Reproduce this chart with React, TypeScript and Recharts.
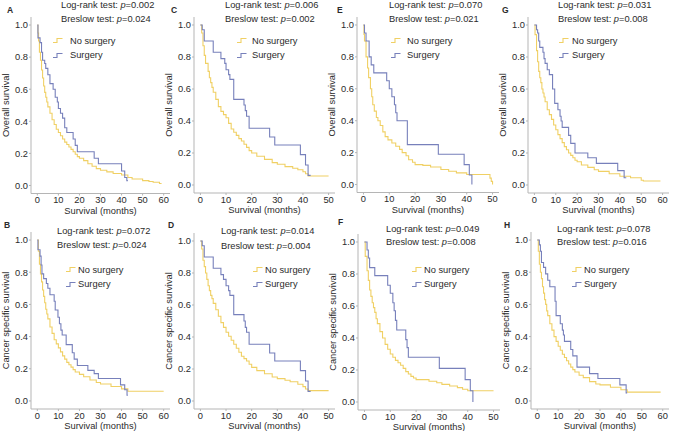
/* ── Kaplan–Meier survival panels A–H (surgery vs no surgery) ───────── */

import React from 'react';
import { LineChart, Line, XAxis, YAxis } from 'recharts';

const YELLOW = '#f0d064';
const BLUE = '#7780bb';
const AXIS = '#b5b5b5';
const INK = '#2b2b2b';
const FONT = '"Liberation Sans", Arial, Helvetica, sans-serif';

type Pt = [number, number];

/* survival curves: [months, survival probability] */
const A_NO: Pt[] = [[0,1],[0.3,0.95],[0.6,0.9],[1,0.83],[1.5,0.78],[2,0.72],[2.5,0.67],[3,0.62],[3.5,0.58],[4,0.55],[4.5,0.52],[5,0.49],[6,0.45],[7,0.41],[8,0.38],[9,0.35],[10,0.33],[11,0.31],[12,0.29],[13,0.27],[14,0.255],[15,0.24],[16,0.225],[17,0.21],[18,0.195],[19,0.18],[20,0.17],[22,0.155],[24,0.135],[26,0.12],[28,0.105],[30,0.095],[33,0.085],[36,0.075],[40,0.065],[43,0.05],[45,0.04],[50,0.03],[53,0.025],[55,0.02],[58,0.012],[59,0.012]];
const A_SURG: Pt[] = [[0,1],[0.3,0.92],[1.3,0.89],[2,0.83],[2.5,0.78],[3.5,0.76],[4,0.73],[5,0.69],[6,0.635],[7.5,0.6],[8.5,0.55],[9.5,0.52],[10,0.48],[11,0.45],[12,0.42],[13,0.36],[14,0.33],[17,0.29],[18,0.25],[19,0.21],[27,0.17],[29,0.135],[40,0.09],[41.5,0.05],[42.5,0.03],[43,0.03]];

const C_NO: Pt[] = [[0,1],[0.5,0.95],[1,0.87],[1.5,0.81],[2,0.76],[3,0.71],[3.5,0.67],[4,0.64],[4.5,0.61],[5,0.58],[6,0.535],[7,0.49],[8,0.46],[9,0.44],[10,0.42],[11,0.385],[12,0.35],[13,0.33],[14,0.31],[15,0.29],[16,0.275],[17,0.255],[18,0.235],[19,0.215],[20,0.2],[22,0.18],[25,0.16],[28,0.14],[30,0.13],[33,0.115],[36,0.105],[38,0.095],[40,0.083],[41,0.07],[42,0.056],[50,0.056]];
const C_SURG: Pt[] = [[0,1],[0.7,0.97],[1.5,0.9],[5,0.83],[8,0.79],[9.5,0.76],[10,0.72],[11,0.69],[11.5,0.66],[13,0.535],[17,0.5],[17.5,0.465],[18,0.43],[19,0.355],[27,0.3],[29,0.25],[39,0.19],[41,0.125],[42,0.06],[43,0.06]];

const E_NO: Pt[] = [[0,1],[0.2,0.94],[0.4,0.9],[1,0.8],[1.6,0.73],[2,0.67],[2.7,0.6],[3.2,0.55],[3.6,0.5],[4.2,0.46],[5,0.42],[5.6,0.4],[6.5,0.37],[7.5,0.33],[8.4,0.3],[9.5,0.28],[11,0.26],[12.5,0.24],[14,0.22],[15,0.2],[16.5,0.18],[17.5,0.155],[19,0.14],[20,0.125],[23,0.12],[26,0.11],[30,0.094],[33,0.083],[36,0.073],[40,0.063],[49,0.04],[49.5,0.02],[50,0.0]];
const E_SURG: Pt[] = [[0,1],[0.4,0.95],[1,0.9],[2.2,0.8],[3,0.75],[4,0.7],[9,0.65],[10,0.6],[11,0.55],[12,0.5],[12.5,0.45],[13,0.4],[17,0.25],[29,0.19],[39,0.125],[41,0.06],[42,0.0]];

const G_NO: Pt[] = [[0,1],[0.3,0.94],[1,0.84],[1.5,0.77],[2,0.71],[2.5,0.67],[3,0.64],[3.5,0.6],[4,0.575],[4.5,0.55],[5,0.52],[6,0.47],[7,0.44],[8,0.41],[9,0.375],[10,0.345],[11,0.315],[12,0.29],[13,0.265],[14,0.24],[15,0.22],[16,0.2],[17,0.185],[18,0.17],[19,0.155],[20,0.145],[22,0.125],[25,0.11],[28,0.095],[30,0.085],[35,0.07],[40,0.055],[45,0.045],[50,0.03],[51,0.025],[59,0.025]];
const G_SURG: Pt[] = [[0,1],[1,0.97],[1.5,0.95],[2,0.9],[2.5,0.86],[4,0.83],[4.5,0.79],[5,0.76],[6,0.72],[7,0.69],[8.5,0.6],[9.5,0.51],[11,0.47],[12,0.43],[12.5,0.4],[13,0.36],[16,0.31],[17,0.26],[19,0.2],[25,0.17],[29,0.135],[39,0.09],[42,0.045],[43,0.045]];

const B_NO: Pt[] = [[0,1],[0.5,0.93],[1,0.85],[1.5,0.79],[2,0.74],[2.5,0.69],[3,0.65],[3.5,0.61],[4,0.57],[4.5,0.54],[5,0.51],[6,0.46],[7,0.42],[8,0.38],[9,0.355],[10,0.33],[11,0.305],[12,0.28],[13,0.26],[14,0.24],[15,0.225],[16,0.21],[17,0.195],[18,0.18],[20,0.165],[22,0.15],[25,0.13],[28,0.115],[30,0.105],[35,0.09],[40,0.075],[43,0.06],[60,0.06]];
const B_SURG: Pt[] = [[0,1],[0.3,0.94],[1.3,0.9],[1.8,0.845],[2.2,0.79],[3,0.76],[4.3,0.73],[5,0.7],[6,0.66],[8,0.62],[8.5,0.565],[9.8,0.52],[10.5,0.48],[11.2,0.44],[11.8,0.41],[13.7,0.35],[16.6,0.3],[17.5,0.26],[19,0.22],[24,0.19],[27,0.17],[29,0.14],[39.5,0.1],[41.5,0.07],[42.6,0.035],[43,0.035]];

const D_NO: Pt[] = [[0,1],[0.5,0.95],[1,0.88],[1.5,0.84],[2,0.8],[2.5,0.76],[3,0.72],[3.5,0.69],[4,0.66],[4.5,0.64],[5,0.61],[6,0.57],[7,0.53],[8,0.49],[9,0.46],[10,0.43],[11,0.405],[12,0.38],[13,0.355],[14,0.33],[15,0.305],[16,0.28],[17,0.265],[18,0.25],[19,0.23],[20,0.21],[22,0.19],[25,0.17],[28,0.15],[30,0.14],[33,0.13],[35,0.12],[38,0.105],[40,0.09],[41,0.075],[42,0.065],[50,0.065]];
const D_SURG: Pt[] = [[0,1],[0.7,0.97],[1.5,0.9],[5,0.83],[8,0.79],[9,0.76],[10,0.72],[11,0.69],[11.5,0.66],[13,0.54],[17,0.5],[17.5,0.46],[18,0.43],[19,0.355],[27,0.3],[29,0.25],[39,0.19],[41,0.125],[42,0.06],[43,0.06]];

const F_NO: Pt[] = [[0,1],[0.3,0.91],[1,0.82],[1.5,0.76],[2,0.7],[2.5,0.66],[3,0.62],[3.5,0.59],[4,0.56],[4.5,0.52],[5,0.49],[6,0.44],[7,0.4],[8,0.36],[9,0.33],[10,0.3],[11,0.28],[12,0.26],[13,0.245],[14,0.23],[15,0.21],[16,0.19],[17,0.175],[18,0.16],[19,0.15],[20,0.14],[25,0.13],[28,0.12],[30,0.11],[33,0.1],[36,0.09],[38,0.08],[40,0.07],[50,0.07]];
const F_SURG: Pt[] = [[0,1],[1,0.95],[1.5,0.9],[2,0.84],[4,0.79],[9,0.73],[10,0.68],[11,0.62],[11.5,0.57],[12,0.51],[12.5,0.45],[16,0.39],[16.5,0.34],[17,0.28],[29,0.21],[39,0.14],[41,0.07],[42,0.0]];

const H_NO: Pt[] = [[0,1],[0.5,0.93],[1,0.85],[1.5,0.8],[2,0.76],[2.5,0.71],[3,0.67],[3.5,0.63],[4,0.6],[4.5,0.56],[5,0.53],[6,0.48],[7,0.44],[8,0.4],[9,0.37],[10,0.34],[11,0.315],[12,0.29],[13,0.27],[14,0.25],[15,0.23],[16,0.21],[17,0.195],[18,0.18],[20,0.16],[22,0.145],[25,0.12],[28,0.105],[30,0.1],[35,0.085],[40,0.07],[43,0.055],[59,0.055]];
const H_SURG: Pt[] = [[0,1],[1,0.97],[1.5,0.93],[2,0.86],[3,0.83],[4,0.79],[5,0.75],[6,0.71],[8.5,0.62],[9,0.53],[11,0.48],[12,0.44],[12.5,0.41],[13,0.37],[16,0.32],[17,0.28],[19,0.21],[25,0.17],[29,0.14],[39.5,0.1],[42.5,0.05],[43,0.05]];

/* test statistics per panel */
const LOG_RANK: Record<string, string> = { A: '0.002', C: '0.006', E: '0.070', G: '0.031', B: '0.072', D: '0.014', F: '0.049', H: '0.078' };
const BRESLOW: Record<string, string> = { A: '0.024', C: '0.002', E: '0.021', G: '0.008', B: '0.024', D: '0.004', F: '0.008', H: '0.016' };

const Y_TICKS = [0, 0.2, 0.4, 0.6, 0.8, 1.0];
const X_TICKS_60 = [0, 10, 20, 30, 40, 50, 60];
const X_TICKS_50 = [0, 10, 20, 30, 40, 50];

/* layout: plot box [left, right, top, bottom] and text anchors, in page px */
const LAYOUT = [
  { id: 'A', no: A_NO, surg: A_SURG, xMax: 60, yTitle: 'Overall survival', plot: [30.5, 169.5, 16.5, 193], letter: [7, 10], stat: [61, 5, 18.5], leg: [53, 70, 40.5, 55] },
  { id: 'C', no: C_NO, surg: C_SURG, xMax: 50, yTitle: 'Overall survival', plot: [193.5, 334.5, 16.5, 192.5], letter: [171, 10], stat: [225, 5, 18.5], leg: [237, 252, 40.5, 55] },
  { id: 'E', no: E_NO, surg: E_SURG, xMax: 50, yTitle: 'Overall survival', plot: [357, 499, 16.5, 192], letter: [337, 10], stat: [389, 5, 18.5], leg: [391, 407, 40.5, 55] },
  { id: 'G', no: G_NO, surg: G_SURG, xMax: 60, yTitle: 'Overall survival', plot: [527.5, 668.5, 16.5, 192.5], letter: [502, 10], stat: [558, 5, 18.5], leg: [559, 572, 40.5, 55] },
  { id: 'B', no: B_NO, surg: B_SURG, xMax: 60, yTitle: 'Cancer specific survival', plot: [30.5, 169.5, 231.5, 408.5], letter: [4, 225], stat: [57, 231, 245], leg: [66, 78, 269.5, 284] },
  { id: 'D', no: D_NO, surg: D_SURG, xMax: 50, yTitle: 'Cancer specific survival', plot: [193.5, 334.5, 232.5, 408.5], letter: [168, 225], stat: [221, 231, 245.5], leg: [253, 265, 269.5, 284] },
  { id: 'F', no: F_NO, surg: F_SURG, xMax: 50, yTitle: 'Cancer specific survival', plot: [357.5, 499.5, 234, 410], letter: [338, 222], stat: [386, 228.5, 242], leg: [412, 424, 269.5, 284] },
  { id: 'H', no: H_NO, surg: H_SURG, xMax: 60, yTitle: 'Cancer specific survival', plot: [530.5, 668.5, 232, 409], letter: [504, 225], stat: [557, 228.5, 242], leg: [572, 584, 269.5, 284] },
];

const YW = 30;   // y-axis band width
const XH = 24;   // x-axis band height
const MT = 2;
const MR = 2;
const FS = 9.3;

const toRows = (pts: Pt[]) => pts.map(([t, s]) => ({ t, s }));

function YTitle({ viewBox, text }: any) {
  const cx = viewBox.x + 5;
  const cy = viewBox.y + viewBox.height / 2;
  return (
    <text x={cx} y={cy} transform={`rotate(-90 ${cx} ${cy})`} textAnchor="middle"
      dominantBaseline="central" fill={INK} fontSize={FS} fontFamily={FONT}>
      {text}
    </text>
  );
}

function XTitle({ viewBox }: any) {
  const cx = viewBox.x + viewBox.width / 2;
  const cy = viewBox.y + 17;
  return (
    <text x={cx} y={cy} textAnchor="middle" dominantBaseline="central"
      fill={INK} fontSize={FS} fontFamily={FONT}>
      Survival (months)
    </text>
  );
}

function StepGlyph({ color }: { color: string }) {
  return (
    <svg width={10} height={7} style={{ display: 'block' }}>
      <path d="M0,5.5 H4 V1.5 H9.5" fill="none" stroke={color} strokeWidth={1.1} />
    </svg>
  );
}

function Txt({ x, cy, children, bold }: any) {
  return (
    <div style={{ position: 'absolute', left: x, top: cy - 6, height: 12, lineHeight: '12px', fontSize: bold ? 8.5 : FS, fontWeight: bold ? 700 : 400, color: INK, whiteSpace: 'nowrap' }}>
      {children}
    </div>
  );
}

function Panel({ p }: any) {
  const [l, r, t, b] = p.plot;
  const w = YW + (r - l) + MR;
  const h = MT + (b - t) + XH;
  const ticks = p.xMax === 60 ? X_TICKS_60 : X_TICKS_50;
  const pad = p.xMax * 0.05;
  return (
    <>
      <div style={{ position: 'absolute', left: l - YW, top: t - MT }}>
        <LineChart width={w} height={h} margin={{ top: MT, right: MR, bottom: 0, left: 0 }}>
          <XAxis dataKey="t" type="number" domain={[-pad, p.xMax + pad]} ticks={ticks} interval={0}
            allowDataOverflow stroke={AXIS} tickSize={2} tickMargin={1} height={XH}
            tick={{ fill: INK, fontSize: FS, fontFamily: FONT }}
            label={<XTitle />} />
          <YAxis dataKey="s" type="number" domain={[-0.05, 1.05]} ticks={Y_TICKS} interval={0}
            allowDataOverflow stroke={AXIS} tickSize={2} width={YW} tickMargin={1}
            tickFormatter={(v: number) => v.toFixed(1)}
            tick={{ fill: INK, fontSize: FS, fontFamily: FONT }}
            label={<YTitle text={p.yTitle} />} />
          <Line data={toRows(p.no)} dataKey="s" type="stepAfter" stroke={YELLOW} strokeWidth={1.1}
            dot={false} activeDot={false} isAnimationActive={false} />
          <Line data={toRows(p.surg)} dataKey="s" type="stepAfter" stroke={BLUE} strokeWidth={1.1}
            dot={false} activeDot={false} isAnimationActive={false} />
        </LineChart>
      </div>
      <Txt x={p.letter[0]} cy={p.letter[1]} bold>{p.id}</Txt>
      <Txt x={p.stat[0]} cy={p.stat[1]}>Log-rank test: <i>p</i>={LOG_RANK[p.id]}</Txt>
      <Txt x={p.stat[0]} cy={p.stat[2]}>Breslow test: <i>p</i>={BRESLOW[p.id]}</Txt>
      <div style={{ position: 'absolute', left: p.leg[0], top: p.leg[2] - 3.5 }}><StepGlyph color={YELLOW} /></div>
      <div style={{ position: 'absolute', left: p.leg[0], top: p.leg[3] - 3.5 }}><StepGlyph color={BLUE} /></div>
      <Txt x={p.leg[1]} cy={p.leg[2]}>No surgery</Txt>
      <Txt x={p.leg[1]} cy={p.leg[3]}>Surgery</Txt>
    </>
  );
}

export default function App() {
  return (
    <div style={{ position: 'absolute', left: 0, top: 0, width: 674, height: 431, background: '#fff', fontFamily: FONT, overflow: 'hidden' }}>
      {LAYOUT.map((p) => <Panel key={p.id} p={p} />)}
    </div>
  );
}
